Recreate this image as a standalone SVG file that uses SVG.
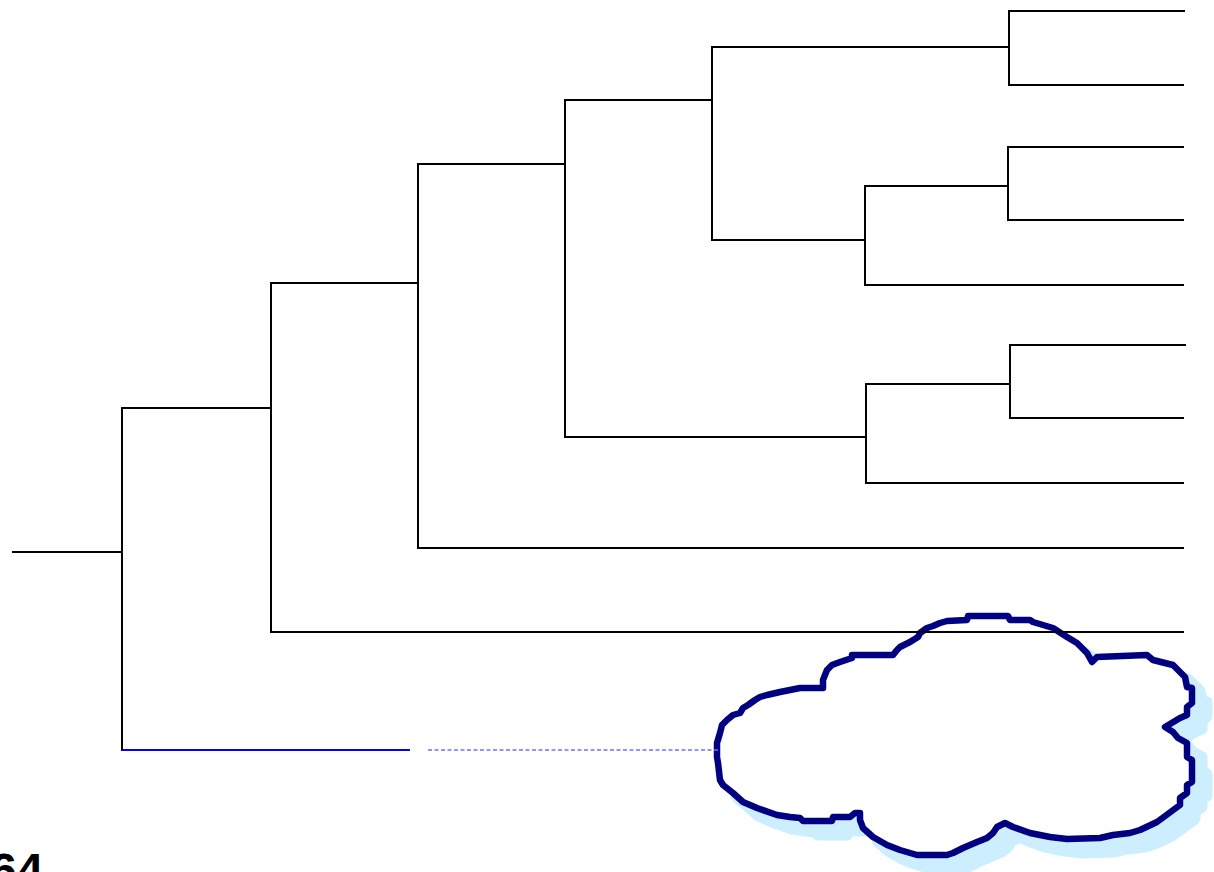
<svg xmlns="http://www.w3.org/2000/svg" width="1214" height="872" viewBox="0 0 1214 872">
  <style>
    .br { fill: none; stroke: #000; stroke-width: 2; stroke-linecap: square; }
    .lead { fill: none; stroke: #0000ff; stroke-width: 2; }
    .dash { fill: none; stroke: #7070ff; stroke-width: 1.5; stroke-dasharray: 4 2.5; }
    .cloud { fill: #fff; stroke: #000080; stroke-width: 6.5; stroke-linejoin: round; }
    .shade { fill: #cdeefe; stroke: #cdeefe; stroke-width: 11; stroke-linejoin: round; }
    .lbl { font-family: "Liberation Sans", Arial, sans-serif; font-weight: bold; font-size: 48px; fill: #000; }
  </style>
  <defs>
    <path id="cloudShape" d="M968,616 L1008,616 L1010,620 L1030,620 L1033,622 L1053,628 L1067,637 L1077,643 L1087,653 L1092,662 L1097,657 L1147,655 L1153,660 L1173,665 L1180,672 L1185,677 L1187,687 L1192,688 L1192,703 L1187,707 L1187,715 L1180,718 L1165,727 L1173,732 L1178,738 L1187,743 L1187,757 L1192,760 L1192,782 L1187,785 L1187,793 L1180,798 L1180,805 L1157,822 L1140,830 L1130,833 L1113,835 L1100,838 L1067,839 L1050,837 L1030,833 L1013,827 L1005,823 L997,827 L993,833 L987,838 L977,842 L963,848 L953,853 L947,855 L917,855 L900,850 L887,845 L873,837 L863,828 L860,820 L860,813 L855,813 L850,817 L833,817 L832,821 L803,821 L800,818 L790,817 L777,815 L757,808 L743,802 L733,793 L723,785 L720,780 L718,763 L717,757 L717,743 L720,733 L722,725 L727,720 L733,715 L740,713 L743,708 L748,705 L755,700 L760,697 L767,695 L780,692 L790,690 L800,688 L823,688 L823,680 L827,670 L832,665 L840,662 L852,658 L852,655 L893,655 L897,650 L900,647 L910,642 L918,637 L920,633 L927,628 L933,626 L940,623 L947,621 L967,620 Z"/>
  </defs>

  <!-- cloud with soft drop shade -->
  <g id="cloud">
    <use href="#cloudShape" class="shade" transform="translate(15,14)"/>
    <use href="#cloudShape" class="cloud"/>
  </g>

  <!-- tree branches -->
  <g id="connectors">
    <path class="br" d="M13,552 H122 M122,408 V750 M122,408 H271"/>
    <path class="br" d="M271,283 V632 M271,632 H1183 M271,283 H418"/>
    <path class="br" d="M418,164 V548 M418,548 H1183 M418,164 H565"/>
    <path class="br" d="M565,100 V437 M565,100 H712 M565,437 H866"/>
    <path class="br" d="M712,47 V240 M712,47 H1009 M712,240 H865"/>
    <path class="br" d="M1009,11 V85 M1009,11 H1184 M1009,85 H1183"/>
    <path class="br" d="M865,186 V285 M865,186 H1008 M865,285 H1183"/>
    <path class="br" d="M1008,147 V220 M1008,147 H1183 M1008,220 H1183"/>
    <path class="br" d="M866,384 V483 M866,384 H1010 M866,483 H1183"/>
    <path class="br" d="M1010,345 V418 M1010,345 H1185 M1010,418 H1183"/>
    <path class="lead" d="M122,750 H410"/>
    <path class="dash" d="M428,750 H718"/>
  </g>

  <text class="lbl" x="-10" y="887">64</text>
</svg>
